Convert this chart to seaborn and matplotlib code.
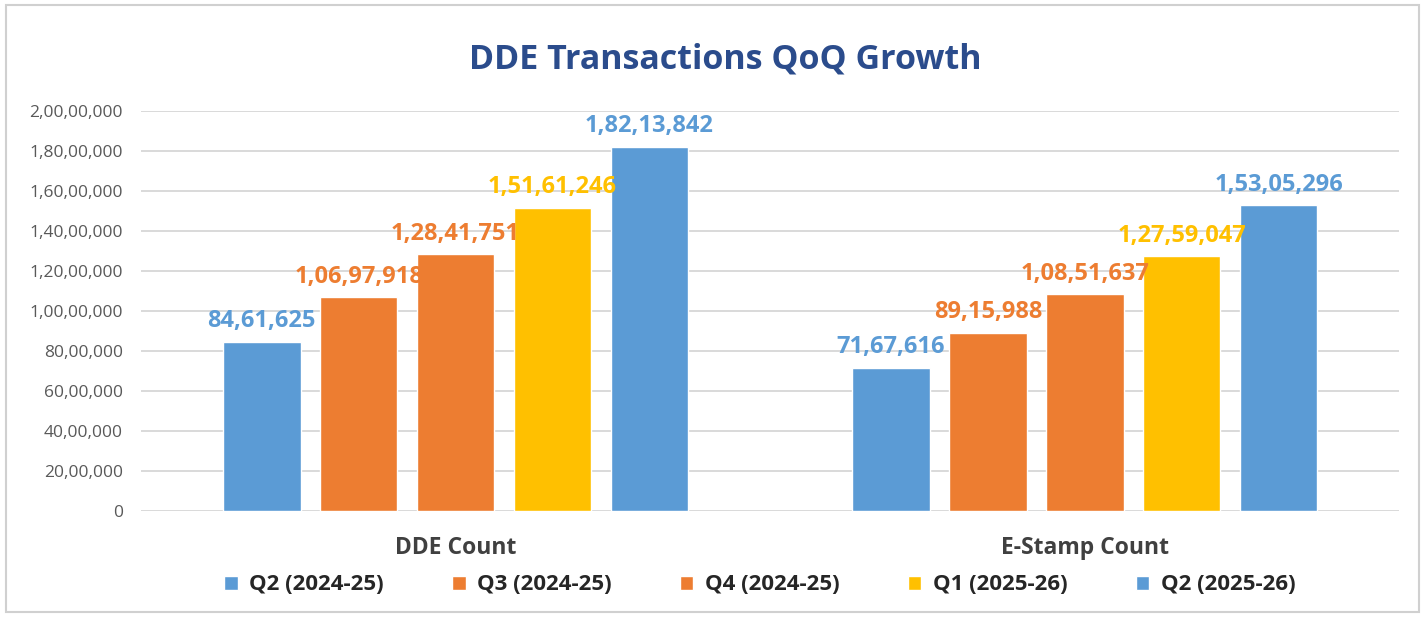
import pandas as pd
import matplotlib.pyplot as plt
import seaborn as sns
from matplotlib.patches import Rectangle

groups = ["DDE Count", "E-Stamp Count"]
quarters = ["Q2 (2024-25)", "Q3 (2024-25)", "Q4 (2024-25)", "Q1 (2025-26)", "Q2 (2025-26)"]
dde_values = [8461625, 10697918, 12841751, 15161246, 18213842]
estamp_values = [7167616, 8915988, 10851637, 12759047, 15305296]
colors = ["#5B9BD5", "#ED7D31", "#ED7D31", "#FFC000", "#5B9BD5"]
y_ticks = [0, 2000000, 4000000, 6000000, 8000000, 10000000, 12000000,
           14000000, 16000000, 18000000, 20000000]


def indian(n):
    s = str(int(round(n)))
    if len(s) <= 3:
        return s
    head, tail = s[:-3], s[-3:]
    parts = []
    while len(head) > 2:
        parts.insert(0, head[-2:])
        head = head[:-2]
    if head:
        parts.insert(0, head)
    return ",".join(parts) + "," + tail


def main():
    sns.set_style("white")
    plt.rcParams['font.family'] = ['Open Sans', 'DejaVu Sans']

    rows = []
    for g, vals in zip(groups, [dde_values, estamp_values]):
        for q, v in zip(quarters, vals):
            rows.append({"group": g, "quarter": q, "value": v})
    df = pd.DataFrame(rows)

    fig = plt.figure(figsize=(14.28, 6.17), dpi=100)
    ax = fig.add_axes([0.0987, 0.1718, 0.8813, 0.6482])
    sns.barplot(data=df, x="group", y="value", hue="quarter", hue_order=quarters,
                palette=colors, width=0.77, gap=0.2, ax=ax, saturation=1)

    ax.set_ylim(0, 20000000)
    ax.set_xlim(-0.5, 1.5)
    ax.set_yticks(y_ticks)
    ax.set_yticklabels([indian(t) for t in y_ticks], color="#595959", fontsize=12.5)
    ax.yaxis.grid(True, color="#d9d9d9", linewidth=1.4)
    ax.set_axisbelow(True)
    for s in ax.spines.values():
        s.set_visible(False)
    ax.tick_params(axis='both', length=0)
    ax.tick_params(axis='y', pad=13)
    ax.tick_params(axis='x', pad=18)
    for lbl in ax.get_xticklabels():
        lbl.set_fontsize(16.5)
        lbl.set_fontweight('bold')
        lbl.set_color("#404040")
    ax.set_xlabel("")
    ax.set_ylabel("")

    for cont, c in zip(ax.containers, colors):
        ax.bar_label(cont, labels=[indian(b.get_height()) for b in cont],
                     color=c, fontsize=17, fontweight='bold', padding=6)

    handles, labels = ax.get_legend_handles_labels()
    ax.legend(handles, labels, loc='center', bbox_to_anchor=(0.532, 0.052),
              bbox_transform=fig.transFigure, ncol=5, frameon=False,
              handlelength=0.6, handleheight=0.6, handletextpad=0.5,
              columnspacing=3.1, prop={'size': 16, 'weight': 'bold'},
              labelcolor="#262626")

    fig.text(0.508, 0.903, "DDE Transactions QoQ Growth", ha='center', va='center',
             fontsize=24.5, fontweight='bold', color="#2B4C8C")

    fig.patches.append(Rectangle((0.004, 0.008), 0.99, 0.984, transform=fig.transFigure,
                                 fill=False, edgecolor="#d0d0d0", linewidth=1.5))

    plt.savefig("out.png", dpi=100)
    plt.close('all')


if __name__ == "__main__":
    main()
